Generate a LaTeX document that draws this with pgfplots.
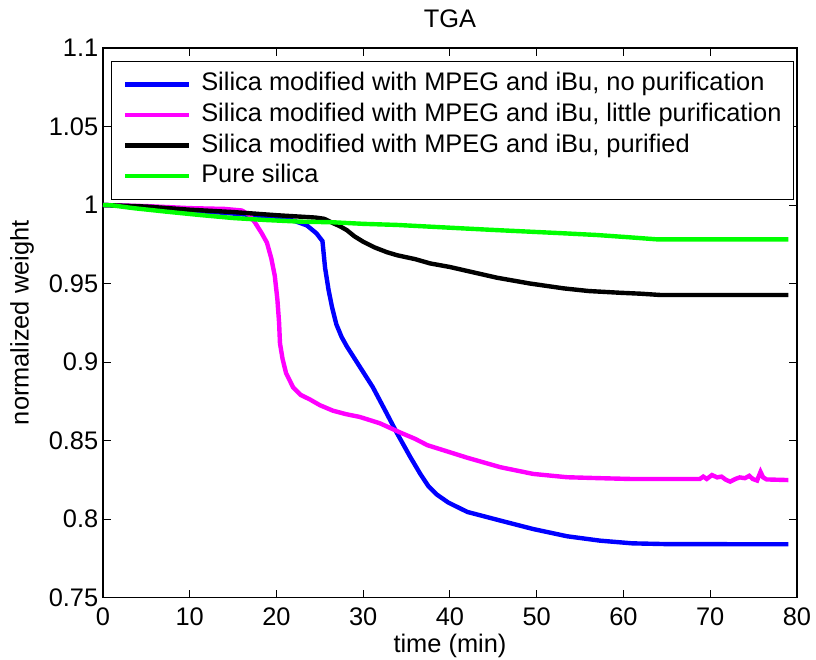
\documentclass[border=0pt]{standalone}
\usepackage{pgfplots}
\pgfplotsset{compat=1.18}
\usepackage{fontspec}
\setmainfont{Liberation Sans}
\definecolor{mblue}{RGB}{0,0,255}
\definecolor{mmag}{RGB}{255,0,255}
\definecolor{mgreen}{RGB}{0,255,0}
\begin{document}
\begin{tikzpicture}
\useasboundingbox (-51.5bp,-31.25bp) rectangle (356.5bp,298.75bp);
\begin{axis}[
  width=347bp, height=274.75bp, scale only axis,
  xmin=0, xmax=80, ymin=0.75, ymax=1.1,
  xtick={0,10,...,80},
  ytick={0.75,0.8,0.85,0.9,0.95,1,1.05,1.1},
  yticklabels={0.75,0.8,0.85,0.9,0.95,1,1.05,1.1},
  tick align=inside,
  major tick length=4bp,
  every tick/.style={black, line width=0.5bp},
  axis line style={line width=0.6bp},
  /pgf/number format/assume math mode=true,
  font=\fontsize{12.7bp}{15bp}\selectfont,
  ticklabel style={font=\fontsize{12.7bp}{15bp}\selectfont},
  xticklabel style={yshift=-1.5bp},
  yticklabel style={inner xsep=2.2bp},
  title={TGA},
  title style={at={(axis description cs:0.5,1.031)}, anchor=center, font=\fontsize{12.7bp}{15bp}\selectfont},
  xlabel={time (min)},
  xlabel style={at={(axis description cs:0.5,-0.088)}, anchor=center, font=\fontsize{12.7bp}{15bp}\selectfont},
  ylabel={normalized weight},
  ylabel style={at={(axis description cs:-0.1167,0.5)}, anchor=center, font=\fontsize{12.7bp}{15bp}\selectfont},
  legend image code/.code={\draw[#1] (0bp,0bp) -- (32bp,0bp);},
  legend cell align=left,
  legend style={at={(axis description cs:0.0111,0.9769)}, anchor=north west,
    draw=black, line width=0.6bp, fill=white,
    inner xsep=6bp, inner ysep=5.6bp,
    row sep=3.4bp,
    font=\fontsize{12.7bp}{15bp}\selectfont,
    nodes={inner sep=0pt, text height=9.2bp, text depth=2.7bp},
    /tikz/every odd column/.style={column sep=4.8bp}},
]
\addplot[mblue, line width=2.2bp] coordinates {
(0,1.000)(3,0.9993)(6,0.998)(10,0.9965)(14,0.995)(18,0.9932)(20,0.9922)(22,0.990)(23.5,0.987)(24.6,0.982)(25.3,0.977)(25.6,0.960)(26.0,0.946)(26.4,0.935)(26.9,0.924)(27.5,0.916)(28.1,0.910)(29.6,0.897)(31.1,0.884)(32.5,0.8694)(33.9,0.8546)(35.4,0.8397)(36.6,0.8285)(37.5,0.821)(38.5,0.8155)(39.8,0.8105)(42,0.8045)(45.8,0.799)(49.6,0.7936)(53.5,0.789)(57.3,0.7862)(61,0.7845)(65,0.7840)(79,0.7839)
};
\addlegendentry{Silica modified with MPEG and iBu, no purification\hspace*{2.3bp}}
\addplot[mmag, line width=2.2bp] coordinates {
(0,1.0)(5,0.9993)(10,0.998)(14,0.9975)(16,0.9965)(16.8,0.994)(17.5,0.989)(18.3,0.982)(18.9,0.976)(19.4,0.966)(19.8,0.955)(20.1,0.940)(20.3,0.925)(20.4,0.912)(20.7,0.902)(21.1,0.893)(21.9,0.884)(22.8,0.879)(23.9,0.876)(25,0.8725)(26.5,0.869)(28,0.8668)(29.6,0.865)(31.9,0.861)(34.3,0.855)(36,0.851)(37.4,0.847)(40,0.8425)(42,0.839)(45.8,0.833)(49.6,0.8287)(53.5,0.8266)(57.3,0.8260)(60.8,0.8255)(65,0.8255)(68.8,0.8255)(69.2,0.827)(69.6,0.8255)(70.2,0.828)(70.8,0.8265)(71.3,0.827)(71.8,0.825)(72.3,0.8238)(72.9,0.8255)(73.4,0.8265)(74,0.826)(74.5,0.8275)(74.9,0.8255)(75.4,0.8245)(75.8,0.830)(76.1,0.8265)(76.5,0.8252)(79,0.8248)
};
\addlegendentry{Silica modified with MPEG and iBu, little purification}
\addplot[black, line width=2.2bp] coordinates {
(0,1.0)(5,0.999)(10,0.997)(15,0.9955)(20,0.9935)(22.7,0.9926)(24.5,0.992)(25.5,0.9912)(26.5,0.9885)(27.3,0.9865)(28.1,0.984)(29,0.980)(30,0.9766)(31.3,0.973)(32.7,0.970)(33.9,0.968)(36,0.9655)(37.7,0.9628)(40,0.9605)(41.5,0.9586)(45.4,0.9537)(49.2,0.950)(53.1,0.9469)(56,0.9452)(59.6,0.9441)(62,0.9435)(64.2,0.9427)(79,0.9427)
};
\addlegendentry{Silica modified with MPEG and iBu, purified}
\addplot[mgreen, line width=2.2bp] coordinates {
(0,1.0)(1,0.9998)(3.5,0.998)(7.4,0.9957)(11.2,0.9936)(15,0.9917)(18.9,0.9904)(22.7,0.9894)(26.5,0.989)(30,0.988)(33.9,0.9873)(37.7,0.9862)(41.5,0.9851)(45.4,0.984)(49.2,0.983)(53,0.982)(56.9,0.9809)(60.5,0.9795)(63.9,0.9781)(79,0.9781)
};
\addlegendentry{Pure silica}
\end{axis}
\end{tikzpicture}
\end{document}
